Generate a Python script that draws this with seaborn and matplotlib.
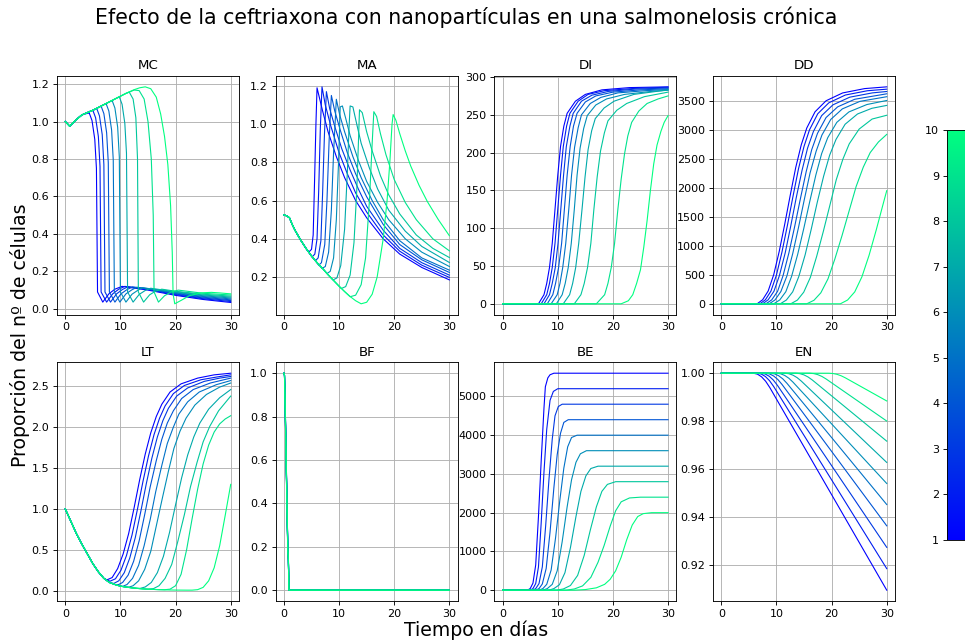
import matplotlib
matplotlib.use("Agg")
import matplotlib.pyplot as plt
import seaborn as sns
import pandas as pd
from matplotlib.colors import Normalize
from matplotlib.cm import ScalarMappable

# ---------------- data ----------------
levels = [1, 2, 3, 4, 5, 6, 7, 8, 9, 10]
panel_names = ["MC", "MA", "DI", "DD", "LT", "BF", "BE", "EN"]
title_text = "Efecto de la ceftriaxona con nanopartículas en una salmonelosis crónica"
x_label = "Tiempo en días"
y_label = "Proporción del nº de células"

MC_T = [
    [0, 0.8, 2, 3, 3.8, 4.35, 4.85, 5.35, 5.65, 5.85, 6.8, 7.9, 9.0, 10.3, 15, 20, 25, 30],
    [0, 0.8, 2, 3, 4.5, 5.0, 5.5, 6.0, 6.3, 6.5, 7.5, 8.6, 9.7, 10.8, 15, 20, 25, 30],
    [0, 0.8, 2, 3, 5, 5.7, 6.2, 6.7, 7.0, 7.2, 8.2, 9.3, 10.4, 11.4, 15, 20, 25, 30],
    [0, 0.8, 2, 3, 5, 6.0, 6.5, 7.0, 7.5, 7.8, 8.0, 9.0, 10.1, 11.2, 12.2, 15, 20, 25, 30],
    [0, 0.8, 2, 3, 5, 7, 7.4, 7.9, 8.4, 8.7, 8.9, 9.9, 11.0, 12.1, 13.0, 20, 25, 30],
    [0, 0.8, 2, 3, 5, 7, 8.5, 9.0, 9.5, 9.8, 10.0, 11.0, 12.1, 13.2, 14.0, 20, 25, 30],
    [0, 0.8, 2, 3, 5, 7, 9, 9.8, 10.3, 10.8, 11.1, 11.3, 12.3, 13.4, 14.5, 15.5, 20, 25, 30],
    [0, 0.8, 2, 3, 5, 7, 9, 11, 11.6, 12.3, 12.8, 13.1, 13.25, 14.2, 15.3, 16.4, 17.5, 20, 25, 30],
    [0, 0.8, 2, 3, 5, 7, 9, 11, 12.5, 13.4, 14.3, 15.0, 15.6, 15.95, 16.1, 16.9, 18.0, 19.2, 20.5, 25, 30],
    [0, 0.8, 2, 3, 5, 7, 9, 11, 12.5, 13.5, 14.5, 15.5, 16.5, 17.3, 18.0, 18.6, 19.1, 19.4, 19.55, 19.85,
     21, 22.5, 24.5, 26.5, 28, 30],
]
MC_Y = [
    [1.0, 0.975, 1.01, 1.035, 1.042, 1.045, 1.005, 0.905, 0.75, 0.09, 0.036, 0.08, 0.105, 0.12, 0.1, 0.072, 0.05, 0.034],
    [1.0, 0.975, 1.01, 1.035, 1.055, 1.06, 1.02, 0.92, 0.76, 0.09, 0.036, 0.08, 0.105, 0.12, 0.103, 0.076, 0.054, 0.039],
    [1.0, 0.975, 1.01, 1.035, 1.06, 1.07, 1.03, 0.93, 0.77, 0.09, 0.036, 0.08, 0.104, 0.118, 0.106, 0.079, 0.058, 0.044],
    [1.0, 0.975, 1.01, 1.035, 1.06, 1.075, 1.082, 1.042, 0.94, 0.78, 0.09, 0.036, 0.08, 0.103, 0.117, 0.108, 0.082, 0.062, 0.048],
    [1.0, 0.975, 1.01, 1.035, 1.06, 1.09, 1.096, 1.056, 0.955, 0.795, 0.09, 0.036, 0.08, 0.102, 0.115, 0.085, 0.066, 0.053],
    [1.0, 0.975, 1.01, 1.035, 1.06, 1.09, 1.112, 1.072, 0.97, 0.81, 0.09, 0.036, 0.078, 0.1, 0.113, 0.088, 0.07, 0.058],
    [1.0, 0.975, 1.01, 1.035, 1.06, 1.09, 1.12, 1.132, 1.092, 0.99, 0.83, 0.09, 0.036, 0.077, 0.098, 0.11, 0.091, 0.074, 0.063],
    [1.0, 0.975, 1.01, 1.035, 1.06, 1.09, 1.12, 1.15, 1.157, 1.12, 1.02, 0.8, 0.09, 0.036, 0.075, 0.095, 0.105, 0.094, 0.078, 0.068],
    [1.0, 0.975, 1.01, 1.035, 1.06, 1.09, 1.12, 1.15, 1.168, 1.165, 1.12, 1.0, 0.8, 0.5, 0.09, 0.036, 0.07, 0.09, 0.1, 0.083, 0.074],
    [1.0, 0.975, 1.01, 1.035, 1.06, 1.09, 1.12, 1.15, 1.17, 1.18, 1.185, 1.175, 1.13, 1.04, 0.92, 0.77, 0.55, 0.3, 0.08, 0.027,
     0.045, 0.07, 0.085, 0.088, 0.085, 0.08],
]

MA_T = [
    [0, 0.5, 1, 1.5, 2, 3, 4, 4.5, 5.0, 5.3, 5.55, 5.8, 6.0, 7, 8, 9.5, 11, 13, 15, 18, 21, 25, 30],
    [0, 0.5, 1, 1.5, 2, 3, 4, 5.1, 5.6, 6.0, 6.3, 6.6, 6.9, 7.5, 8.5, 10, 11.5, 13, 15, 18, 21, 25, 30],
    [0, 0.5, 1, 1.5, 2, 3, 4, 5, 5.7, 6.2, 6.7, 7.0, 7.35, 7.7, 8.3, 9.3, 10.5, 12, 13.5, 15, 18, 21, 25, 30],
    [0, 0.5, 1, 1.5, 2, 3, 4, 5, 6, 6.3, 6.8, 7.4, 7.8, 8.2, 8.6, 9.2, 10.2, 11.5, 13, 15, 18, 21, 25, 30],
    [0, 0.5, 1, 1.5, 2, 3, 4, 5, 6, 6.9, 7.5, 8.1, 8.6, 9.0, 9.5, 10.1, 11, 12.5, 14, 16, 18, 21, 25, 30],
    [0, 0.5, 1, 1.5, 2, 3, 4, 5, 6, 7, 7.8, 8.4, 9.0, 9.5, 9.9, 10.2, 10.6, 11.2, 12, 13.5, 15, 17, 19, 22, 25, 30],
    [0, 0.5, 1, 1.5, 2, 3, 4, 5, 6, 7, 8, 8.9, 9.6, 10.3, 11.0, 11.5, 11.8, 12.0, 12.5, 13.2, 14, 15.5, 17, 19, 22, 25, 30],
    [0, 0.5, 1, 1.5, 2, 3, 4, 5, 6, 7, 8, 9, 10, 10.4, 11.2, 12.0, 12.7, 13.2, 13.5, 13.7, 14.2, 15, 16, 17.5, 19, 21, 24, 27, 30],
    [0, 0.5, 1, 1.5, 2, 3, 4, 5, 6, 7, 8, 9, 10, 11, 12.0, 13.0, 14.0, 14.8, 15.5, 16.0, 16.3, 16.8, 17.5, 18.5, 20, 22, 24, 27, 30],
    [0, 0.5, 1, 1.5, 2, 3, 4, 5, 6, 7, 8, 9, 10, 11, 12, 13, 14, 15, 16, 16.9, 18.0, 18.7, 19.2, 19.6, 19.8,
     20.3, 21, 22, 23, 24.5, 26, 28, 30],
]
MA_Y = [
    [0.525, 0.52, 0.51, 0.475, 0.445, 0.395, 0.35, 0.33, 0.345, 0.42, 0.7, 1.0, 1.19, 1.07, 0.96, 0.83, 0.72, 0.6, 0.51, 0.4, 0.32, 0.25, 0.185],
    [0.525, 0.52, 0.51, 0.475, 0.445, 0.395, 0.35, 0.305, 0.32, 0.40, 0.65, 0.98, 1.195, 1.1, 0.99, 0.85, 0.74, 0.64, 0.54, 0.42, 0.335, 0.262, 0.198],
    [0.525, 0.52, 0.51, 0.475, 0.445, 0.395, 0.35, 0.31, 0.285, 0.30, 0.39, 0.63, 0.95, 1.17, 1.08, 0.98, 0.87, 0.76, 0.66, 0.57, 0.445, 0.35, 0.275, 0.21],
    [0.525, 0.52, 0.51, 0.475, 0.445, 0.395, 0.35, 0.31, 0.275, 0.262, 0.275, 0.37, 0.6, 0.92, 1.15, 1.07, 0.97, 0.85, 0.74, 0.62, 0.475, 0.37, 0.29, 0.224],
    [0.525, 0.52, 0.51, 0.475, 0.445, 0.395, 0.35, 0.31, 0.275, 0.245, 0.255, 0.33, 0.55, 0.85, 1.13, 1.05, 0.96, 0.83, 0.72, 0.6, 0.5, 0.39, 0.3, 0.236],
    [0.525, 0.52, 0.51, 0.475, 0.445, 0.395, 0.35, 0.31, 0.275, 0.245, 0.218, 0.23, 0.3, 0.5, 0.8, 1.09, 1.095, 1.03, 0.94, 0.81, 0.7, 0.59, 0.5, 0.4, 0.33, 0.255],
    [0.525, 0.52, 0.51, 0.475, 0.445, 0.395, 0.35, 0.31, 0.275, 0.245, 0.212, 0.185, 0.195, 0.26, 0.45, 0.75, 0.98, 1.095, 1.09, 1.0, 0.9, 0.77, 0.66, 0.55, 0.44, 0.36, 0.276],
    [0.525, 0.52, 0.51, 0.475, 0.445, 0.395, 0.35, 0.31, 0.275, 0.245, 0.212, 0.182, 0.152, 0.14, 0.15, 0.21, 0.38, 0.65, 0.9, 1.075, 1.06, 0.96, 0.86, 0.73, 0.63, 0.53, 0.42, 0.35, 0.302],
    [0.525, 0.52, 0.51, 0.475, 0.445, 0.395, 0.35, 0.31, 0.275, 0.245, 0.212, 0.182, 0.152, 0.124, 0.097, 0.105, 0.16, 0.3, 0.6, 0.9, 1.065, 1.04, 0.95, 0.84, 0.71, 0.59, 0.5, 0.4, 0.337],
    [0.525, 0.52, 0.51, 0.475, 0.445, 0.395, 0.35, 0.31, 0.275, 0.245, 0.212, 0.182, 0.152, 0.124, 0.098, 0.076, 0.06, 0.068, 0.11, 0.2, 0.4, 0.6, 0.8, 1.0, 1.05,
     1.02, 0.95, 0.86, 0.78, 0.68, 0.595, 0.5, 0.416],
]

DI_T = [
    [0, 6.5, 7.5, 8.0, 8.5, 9.0, 9.5, 10.0, 10.5, 11.1, 11.7, 13.2, 15.0, 18.0, 23, 30],
    [0, 7.0, 8.0, 8.5, 9.0, 9.5, 10.0, 10.5, 11.0, 11.6, 12.2, 13.7, 15.5, 18.5, 24, 30],
    [0, 7.5, 8.5, 9.0, 9.55, 10.05, 10.55, 11.05, 11.55, 12.2, 12.8, 14.3, 16.2, 19.2, 24, 30],
    [0, 8.1, 9.1, 9.6, 10.15, 10.7, 11.2, 11.7, 12.25, 12.85, 13.5, 15.0, 16.9, 20.0, 25, 30],
    [0, 8.8, 9.9, 10.4, 10.9, 11.45, 12.0, 12.5, 13.05, 13.7, 14.3, 15.9, 17.8, 20.9, 26, 30],
    [0, 9.75, 10.8, 11.35, 11.9, 12.45, 13.0, 13.5, 14.05, 14.7, 15.35, 16.9, 18.85, 22.1, 27, 30],
    [0, 11.0, 12.15, 12.7, 13.25, 13.8, 14.4, 14.95, 15.5, 16.15, 16.8, 18.4, 20.2, 23.8, 30],
    [0, 13.0, 14.2, 14.8, 15.4, 16.0, 16.55, 17.15, 17.75, 18.45, 19.1, 20.7, 22.5, 25.7, 30],
    [0, 17.0, 18.5, 19.1, 19.7, 20.3, 20.9, 21.5, 22.1, 22.7, 23.4, 24.7, 26.2, 28.2, 30],
    [0, 21.5, 22.8, 23.6, 24.3, 25.0, 25.6, 26.2, 26.8, 27.4, 28.0, 28.7, 29.3, 30],
]
DI_Y = [
    [0, 0, 12, 27, 48, 80, 125, 170, 208, 235, 252, 268, 277, 283, 286, 287],
    [0, 0, 12, 27, 48, 80, 125, 170, 208, 235, 252, 268, 277, 282, 285, 286.5],
    [0, 0, 12, 27, 48, 80, 125, 170, 208, 235, 252, 268, 276, 281, 284, 285.5],
    [0, 0, 12, 27, 48, 80, 125, 170, 208, 235, 252, 267, 275, 280, 283, 284.5],
    [0, 0, 12, 27, 48, 80, 125, 170, 207, 233, 250, 265, 273, 279, 282, 283.5],
    [0, 0, 12, 27, 48, 80, 125, 170, 206, 232, 249, 263, 271, 277, 281, 282.5],
    [0, 0, 12, 27, 48, 80, 125, 168, 204, 229, 245, 259, 268, 277, 283],
    [0, 0, 12, 27, 48, 80, 125, 168, 202, 226, 242, 256, 265, 274, 280],
    [0, 0, 12, 27, 48, 80, 125, 165, 198, 222, 240, 255, 265, 271, 275],
    [0, 0, 4, 12, 27, 45, 75, 110, 150, 185, 210, 228, 240, 249],
]

DD_T = [
    [0, 6.5, 7.5, 8.5, 9.5, 10.5, 11.5, 12.5, 13.5, 14.5, 15.5, 17, 19, 22, 26, 30],
    [0, 7, 8, 9, 10, 11, 12, 13, 14, 15, 16, 17.5, 19.5, 22.5, 26.5, 30],
    [0, 7.5, 8.5, 9.55, 10.55, 11.6, 12.6, 13.6, 14.65, 15.65, 16.7, 18.2, 20.25, 23.3, 27.4, 30],
    [0, 8.1, 9.15, 10.2, 11.2, 12.25, 13.3, 14.35, 15.4, 16.4, 17.45, 19.0, 21.1, 24.2, 30],
    [0, 8.7, 9.75, 10.8, 11.9, 12.95, 14.0, 15.05, 16.1, 17.2, 18.25, 19.85, 21.95, 25.15, 30],
    [0, 9.5, 10.6, 11.7, 12.75, 13.85, 14.95, 16.05, 17.15, 18.2, 19.3, 20.95, 23.15, 26.4, 30],
    [0, 10.7, 11.8, 12.95, 14.05, 15.2, 16.3, 17.4, 18.55, 19.65, 20.8, 22.45, 24.7, 27.3, 30],
    [0, 12.6, 13.8, 14.95, 16.15, 17.3, 18.5, 19.7, 20.85, 22.05, 23.2, 25.0, 27.35, 30],
    [0, 15.5, 16.8, 18.05, 19.35, 20.6, 21.9, 23.2, 24.45, 25.75, 27.0, 28.5, 30],
    [0, 21.6, 22.9, 24.2, 25.5, 26.8, 28.1, 29.4, 30],
]
DD_Y = [
    [0, 0, 70, 220, 500, 900, 1370, 1870, 2350, 2740, 3030, 3310, 3500, 3635, 3710, 3740],
    [0, 0, 69, 218, 495, 891, 1356, 1851, 2327, 2713, 3000, 3277, 3465, 3599, 3673, 3700],
    [0, 0, 69, 216, 490, 882, 1343, 1833, 2303, 2685, 2969, 3244, 3430, 3562, 3636, 3660],
    [0, 0, 68, 213, 485, 873, 1329, 1814, 2280, 2658, 2939, 3211, 3395, 3526, 3620],
    [0, 0, 67, 211, 480, 864, 1315, 1795, 2256, 2630, 2909, 3178, 3360, 3490, 3570],
    [0, 0, 66, 208, 473, 851, 1295, 1767, 2221, 2589, 2863, 3128, 3308, 3435, 3505],
    [0, 0, 65, 206, 468, 842, 1281, 1748, 2197, 2562, 2833, 3095, 3272, 3370, 3420],
    [0, 0, 64, 200, 455, 819, 1247, 1702, 2139, 2493, 2757, 3012, 3185, 3250],
    [0, 0, 60, 189, 430, 774, 1178, 1608, 2021, 2356, 2606, 2790, 2920],
    [0, 0, 65, 205, 465, 837, 1274, 1739, 1950],
]

LT_T = [
    [0, 1, 2, 3, 4, 5, 6, 7, 7.5, 8.5, 9.5, 10.5, 11.5, 12.5, 13.5, 14.5, 15.5, 16.5, 17.5, 19, 21, 24, 27, 30],
    [0, 1, 2, 3, 4, 5, 6, 7, 8.1, 9.1, 10.1, 11.1, 12.1, 13.1, 14.1, 15.1, 16.1, 17.1, 18.1, 19.6, 21.6, 24.6, 27.6, 30],
    [0, 1, 2, 3, 4, 5, 6, 7, 8, 8.8, 9.7, 10.7, 11.7, 12.7, 13.7, 14.7, 15.7, 16.7, 17.7, 18.7, 20.2, 22.2, 25.2, 28, 30],
    [0, 1, 2, 3, 4, 5, 6, 7, 8, 9, 9.6, 10.4, 11.4, 12.4, 13.4, 14.4, 15.4, 16.5, 17.5, 18.5, 19.6, 21.1, 23.2, 26.3, 30],
    [0, 1, 2, 3, 4, 5, 6, 7, 8, 9, 10, 10.4, 11.2, 12.2, 13.3, 14.3, 15.4, 16.4, 17.5, 18.5, 19.6, 20.6, 22.2, 24.3, 27.4, 30],
    [0, 1, 2, 3, 4, 5, 6, 7, 8, 9, 10, 11, 11.5, 12.3, 13.3, 14.4, 15.5, 16.5, 17.6, 18.7, 19.7, 20.8, 21.9, 23.5, 25.6, 28, 30],
    [0, 1, 2, 3, 4, 5, 6, 7, 8, 9, 10, 11, 12, 13, 13.6, 14.5, 15.6, 16.7, 17.8, 18.9, 20.0, 21.1, 22.2, 23.3, 24.4, 26, 28, 30],
    [0, 1, 2, 3, 4, 5, 6, 7, 8, 9, 10, 11, 12, 13, 14, 15, 16, 17, 18.1, 19.3, 20.4, 21.6, 22.7, 23.9, 25, 26.2, 27.8, 30],
    [0, 1, 2, 3, 4, 5, 6, 7, 8, 9, 10, 11, 12, 13, 14, 15, 16, 17, 18, 19, 20, 21, 22, 23, 24, 25, 26, 27, 28, 29, 30],
    [0, 1, 2, 3, 4, 5, 6, 7, 8, 9, 10, 11, 12, 13, 14, 15, 16, 17, 18, 19, 20, 22, 23, 24, 25, 26, 27, 28, 29, 30],
]
LT_Y = [
    [1.0, 0.85, 0.70, 0.57, 0.45, 0.33, 0.23, 0.15, 0.13, 0.16, 0.27, 0.45, 0.70, 1.02, 1.36, 1.67, 1.93, 2.13, 2.28, 2.43, 2.53, 2.60, 2.64, 2.66],
    [1.0, 0.85, 0.70, 0.57, 0.45, 0.33, 0.23, 0.15, 0.115, 0.145, 0.25, 0.43, 0.68, 1.0, 1.34, 1.65, 1.91, 2.11, 2.26, 2.41, 2.51, 2.58, 2.615, 2.64],
    [1.0, 0.85, 0.70, 0.57, 0.45, 0.33, 0.23, 0.15, 0.10, 0.088, 0.12, 0.22, 0.40, 0.65, 0.97, 1.31, 1.62, 1.88, 2.08, 2.23, 2.38, 2.48, 2.56, 2.60, 2.62],
    [1.0, 0.85, 0.70, 0.57, 0.45, 0.33, 0.23, 0.15, 0.10, 0.075, 0.072, 0.10, 0.19, 0.36, 0.61, 0.93, 1.27, 1.59, 1.85, 2.05, 2.20, 2.35, 2.46, 2.54, 2.60],
    [1.0, 0.85, 0.70, 0.57, 0.45, 0.33, 0.23, 0.15, 0.10, 0.075, 0.055, 0.052, 0.075, 0.15, 0.31, 0.55, 0.87, 1.21, 1.53, 1.80, 2.00, 2.16, 2.31, 2.43, 2.52, 2.57],
    [1.0, 0.85, 0.70, 0.57, 0.45, 0.33, 0.23, 0.15, 0.10, 0.075, 0.055, 0.044, 0.042, 0.06, 0.12, 0.26, 0.48, 0.79, 1.13, 1.46, 1.74, 1.95, 2.11, 2.27, 2.40, 2.49, 2.54],
    [1.0, 0.85, 0.70, 0.57, 0.45, 0.33, 0.23, 0.15, 0.10, 0.075, 0.055, 0.044, 0.035, 0.028, 0.028, 0.045, 0.10, 0.22, 0.42, 0.71, 1.05, 1.38, 1.66, 1.88, 2.05, 2.22, 2.36, 2.46],
    [1.0, 0.85, 0.70, 0.57, 0.45, 0.33, 0.23, 0.15, 0.10, 0.075, 0.055, 0.044, 0.035, 0.028, 0.022, 0.018, 0.025, 0.06, 0.15, 0.32, 0.6, 0.93, 1.27, 1.57, 1.82, 2.01, 2.2, 2.38],
    [1.0, 0.85, 0.70, 0.57, 0.45, 0.33, 0.23, 0.15, 0.10, 0.075, 0.055, 0.044, 0.035, 0.028, 0.022, 0.018, 0.015, 0.012, 0.011, 0.018, 0.06, 0.2, 0.5, 0.88, 1.24, 1.55, 1.78, 1.94, 2.04, 2.1, 2.14],
    [1.0, 0.85, 0.70, 0.57, 0.45, 0.33, 0.23, 0.15, 0.10, 0.075, 0.055, 0.044, 0.035, 0.028, 0.022, 0.018, 0.015, 0.012, 0.01, 0.008, 0.007, 0.006, 0.006, 0.012, 0.04, 0.12, 0.28, 0.55, 0.92, 1.30],
]

BF_T = [0, 0.1, 0.25, 0.4, 0.55, 0.7, 0.8, 0.9, 30]
BF_Y = [
    [1.0, 0.99, 0.80, 0.58, 0.38, 0.17, 0.14, 0.0, 0.0],
    [1.0, 0.99, 0.81, 0.60, 0.39, 0.18, 0.15, 0.0, 0.0],
    [1.0, 0.99, 0.82, 0.61, 0.40, 0.19, 0.15, 0.0, 0.0],
    [1.0, 0.99, 0.83, 0.62, 0.41, 0.20, 0.16, 0.0, 0.0],
    [1.0, 0.99, 0.83, 0.62, 0.41, 0.20, 0.16, 0.0, 0.0],
    [1.0, 0.99, 0.82, 0.61, 0.40, 0.19, 0.16, 0.0, 0.0],
    [1.0, 0.99, 0.82, 0.60, 0.40, 0.19, 0.15, 0.0, 0.0],
    [1.0, 0.99, 0.81, 0.60, 0.39, 0.19, 0.15, 0.0, 0.0],
    [1.0, 0.99, 0.81, 0.59, 0.39, 0.18, 0.15, 0.0, 0.0],
    [1.0, 0.99, 0.80, 0.59, 0.38, 0.18, 0.14, 0.0, 0.0],
]

BE_T = [
    [0, 4.5, 5, 5.5, 6, 6.5, 7, 7.5, 7.75, 8.2, 8.6, 9.3, 30],
    [0, 5, 5.5, 6, 6.5, 7, 7.5, 8, 8.6, 9.2, 10, 30],
    [0, 5.5, 6, 6.6, 7.2, 7.8, 8.4, 9, 9.5, 10.1, 10.8, 30],
    [0, 6, 6.6, 7.2, 7.9, 8.6, 9.3, 9.9, 10.5, 11.1, 11.9, 30],
    [0, 6.6, 7.3, 8, 8.8, 9.6, 10.4, 11.1, 11.8, 12.5, 13.5, 30],
    [0, 7.3, 8.1, 9, 9.9, 10.8, 11.7, 12.5, 13.3, 14.1, 15.2, 30],
    [0, 8.4, 9.3, 10.3, 11.3, 12.3, 13.3, 14.2, 15.1, 16, 17.3, 30],
    [0, 9.8, 11, 12.3, 13.6, 14.8, 15.9, 17, 18, 19, 20.5, 30],
    [0, 11.5, 13, 14.5, 16, 17.3, 18.4, 19.5, 20.5, 21.5, 23, 25, 30],
    [0, 13, 15, 17, 18.5, 19.5, 20.5, 21.5, 22.5, 23.5, 24.5, 25.5, 27, 30],
]
BE_Y = [
    [0, 0, 40, 180, 650, 1900, 3350, 4700, 5250, 5480, 5560, 5600, 5600],
    [0, 0, 40, 170, 600, 1750, 3050, 4150, 4900, 5130, 5200, 5200],
    [0, 0, 40, 170, 600, 1650, 2850, 3900, 4500, 4740, 4800, 4800],
    [0, 0, 40, 160, 560, 1500, 2650, 3500, 4050, 4330, 4400, 4400],
    [0, 0, 40, 150, 520, 1350, 2350, 3150, 3700, 3940, 4000, 4000],
    [0, 0, 40, 150, 500, 1250, 2150, 2850, 3300, 3520, 3600, 3600],
    [0, 0, 40, 140, 450, 1100, 1900, 2550, 2950, 3140, 3200, 3200],
    [0, 0, 30, 120, 380, 900, 1550, 2150, 2550, 2730, 2800, 2800],
    [0, 0, 30, 110, 330, 720, 1150, 1650, 2050, 2280, 2380, 2400, 2400],
    [0, 0, 15, 60, 150, 280, 500, 850, 1300, 1680, 1900, 1975, 2000, 2000],
]

EN_T = [
    [0, 5.8, 6.55, 7.3, 8.05, 8.8, 30],
    [0, 6.5, 7.25, 8.0, 8.75, 9.5, 30],
    [0, 7.2, 7.95, 8.7, 9.45, 10.2, 30],
    [0, 8.0, 8.75, 9.5, 10.25, 11.0, 30],
    [0, 8.9, 9.65, 10.4, 11.15, 11.9, 30],
    [0, 10.0, 10.75, 11.5, 12.25, 13.0, 30],
    [0, 11.5, 12.25, 13.0, 13.75, 14.5, 30],
    [0, 13.5, 14.25, 15.0, 15.75, 16.5, 30],
    [0, 16.0, 16.75, 17.5, 18.25, 19.0, 30],
    [0, 19.5, 20.25, 21.0, 21.75, 22.5, 30],
]
EN_Y = [
    [1, 1, 0.99962, 0.9985, 0.99662, 0.994, 0.9093],
    [1, 1, 0.99965, 0.99861, 0.99687, 0.99443, 0.9183],
    [1, 1, 0.99968, 0.99872, 0.99711, 0.99487, 0.9272],
    [1, 1, 0.99971, 0.99883, 0.99738, 0.99534, 0.9362],
    [1, 1, 0.99974, 0.99895, 0.99764, 0.9958, 0.9451],
    [1, 1, 0.99977, 0.99907, 0.9979, 0.99627, 0.9539],
    [1, 1, 0.9998, 0.99918, 0.99815, 0.99672, 0.9627],
    [1, 1, 0.99982, 0.99929, 0.9984, 0.99717, 0.9716],
    [1, 1, 0.99985, 0.9994, 0.99865, 0.9976, 0.9800],
    [1, 1, 0.99988, 0.99952, 0.99891, 0.99806, 0.9884],
]


def long_table(T, Y):
    rows = []
    for i, k in enumerate(levels):
        ts = T[i] if isinstance(T[i], list) else T
        for t, v in zip(ts, Y[i]):
            rows.append((k, t, v))
    return pd.DataFrame(rows, columns=["nivel", "t", "v"])


panel_data = {
    "MC": (MC_T, MC_Y), "MA": (MA_T, MA_Y), "DI": (DI_T, DI_Y), "DD": (DD_T, DD_Y),
    "LT": (LT_T, LT_Y), "BF": ([BF_T] * 10, BF_Y), "BE": (BE_T, BE_Y), "EN": (EN_T, EN_Y),
}

# ---------------- figure ----------------
DPI = 80
fig = plt.figure(figsize=(965 / DPI, 643 / DPI), dpi=DPI)
axs = fig.subplots(2, 4)
fig.subplots_adjust(left=57 / 965, right=895 / 965, top=1 - 76 / 643, bottom=1 - 601 / 643,
                    wspace=0.2016, hspace=0.2)

for ax, name in zip(axs.flat, panel_names):
    T, Y = panel_data[name]
    df = long_table(T, Y)
    sns.lineplot(data=df, x="t", y="v", hue="nivel", palette="winter", hue_norm=(1, 10),
                 legend=False, ax=ax, linewidth=1.0, estimator=None, sort=False)
    ax.set_title(name, fontsize=12)
    ax.set_xlabel("")
    ax.set_ylabel("")
    ax.grid(True)
    ax.set_xticks([0, 10, 20, 30])

fig.suptitle(title_text, x=466 / 965, y=1 - 17 / 643, fontsize=18.5, va="center")
fig.text(476 / 965, 1 - 630 / 643, x_label, ha="center", va="center", fontsize=17)
fig.text(20 / 965, 0.479, y_label, rotation=90, ha="center", va="center", fontsize=17)

cax = fig.add_axes([947 / 965, 1 - 540 / 643, 18 / 965, 410 / 643])
sm = ScalarMappable(norm=Normalize(1, 10), cmap="winter")
cb = fig.colorbar(sm, cax=cax, ticks=levels)
cax.yaxis.set_ticks_position("left")
cax.yaxis.set_label_position("left")

fig.savefig("out.png", dpi=DPI)
